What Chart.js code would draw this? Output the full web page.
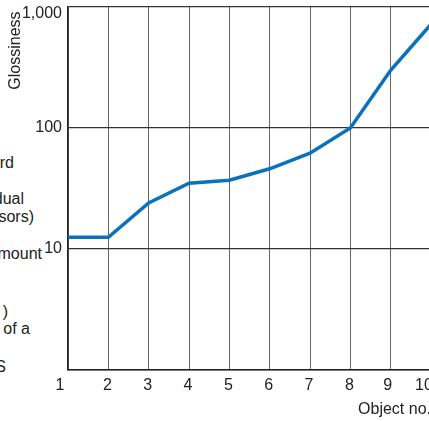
<!DOCTYPE html>
<html>
<head>
<meta charset="utf-8">
<script src="https://cdn.jsdelivr.net/npm/chart.js@4/dist/chart.umd.min.js"></script>
<style>
  html, body { margin: 0; padding: 0; background: #fff; overflow: hidden; }
  body { width: 429px; height: 421px; position: relative; font-family: "Liberation Sans", Arial, sans-serif; }
  #chart { position: absolute; left: 0; top: 0; }
  .frag { position: absolute; transform: translateX(-100%); white-space: nowrap; font-size: 16px; line-height: 16px; color: #222; }
</style>
</head>
<body>
<!-- text fragments from the neighbouring panel, cut off by the crop -->
<div class="frag" style="left:14px; top:155px;">rd</div>
<div class="frag" style="left:24px; top:191px;">dual</div>
<div class="frag" style="left:34px; top:209px;">sors)</div>
<div class="frag" style="left:42px; top:246px;">mount</div>
<div class="frag" style="left:8px; top:304px;">)</div>
<div class="frag" style="left:30px; top:321px;">of a</div>
<div class="frag" style="left:6px; top:359px;">S</div>
<canvas id="chart" width="440" height="421"></canvas>
<script>
var objectNos = [1, 2, 3, 4, 5, 6, 7, 8, 9, 10];
var glossiness = [12.5, 12.5, 24, 35, 37, 46, 62, 100, 300, 720];
var yTickValues = [1, 10, 100, 1000];

var fontFamily = '"Liberation Sans", Arial, sans-serif';
var lineBlue = "#0a72bc";

var points = [];
for (var i = 0; i < objectNos.length; i++) {
  points.push({ x: objectNos[i], y: glossiness[i] });
}

// stop the tick labels from pushing the plot area around
function noLabelPadding(scale) {
  scale.paddingTop = 0;
  scale.paddingBottom = 0;
  scale.paddingLeft = 0;
  scale.paddingRight = 0;
}

// nudge a few tick labels the way the printed figure has them
var labelNudge = {
  beforeDraw: function (chart) {
    var yItems = chart.scales.y.getLabelItems();
    yItems.forEach(function (it) {
      if (it.label === "1,000") it.options.translation[1] += 7;
    });
    var xItems = chart.scales.x.getLabelItems();
    xItems.forEach(function (it) {
      if (it.label === "1") it.options.translation[0] -= 8;
      else if (it.label === "9") it.options.translation[0] -= 3;
      else if (it.label === "10") it.options.translation[0] -= 7;
      else it.options.translation[0] -= 1;
    });
  }
};

var ctx = document.getElementById("chart").getContext("2d");
new Chart(ctx, {
  type: "line",
  data: {
    datasets: [{
      data: points,
      borderColor: lineBlue,
      borderWidth: 3.5,
      pointRadius: 0,
      tension: 0,
      fill: false
    }]
  },
  plugins: [labelNudge],
  options: {
    responsive: false,
    animation: false,
    devicePixelRatio: 1,
    layout: { padding: { top: 7, right: 9, left: 0, bottom: 0 } },
    plugins: { legend: { display: false }, tooltip: { enabled: false } },
    scales: {
      x: {
        type: "linear",
        min: 1,
        max: 10,
        afterFit: function (scale) { scale.height = 51; noLabelPadding(scale); },
        ticks: {
          stepSize: 1,
          padding: 6,
          maxRotation: 0,
          autoSkip: false,
          color: "#222",
          font: { family: fontFamily, size: 16 }
        },
        grid: { color: "#666", lineWidth: 1, drawTicks: false },
        border: { color: "#222", width: 1.5 },
        title: {
          display: true,
          text: "Object no.",
          align: "end",
          color: "#222",
          font: { family: fontFamily, size: 16 },
          padding: { top: 0, bottom: 2 }
        }
      },
      y: {
        type: "logarithmic",
        min: 1,
        max: 1000,
        afterFit: function (scale) { scale.width = 68; noLabelPadding(scale); },
        afterBuildTicks: function (scale) {
          scale.ticks = yTickValues.map(function (v) { return { value: v }; });
        },
        ticks: {
          padding: 6,
          color: "#222",
          font: { family: fontFamily, size: 16 },
          callback: function (value) {
            if (value < 10) return "";
            return value.toLocaleString("en-US");
          }
        },
        grid: { color: "#333", lineWidth: 1.2, drawTicks: false },
        border: { color: "#222", width: 1.5 },
        title: {
          display: true,
          text: "Glossiness ",
          align: "end",
          color: "#222",
          font: { family: fontFamily, size: 16 },
          padding: { top: 6, bottom: 0 }
        }
      }
    }
  }
});
</script>
</body>
</html>
